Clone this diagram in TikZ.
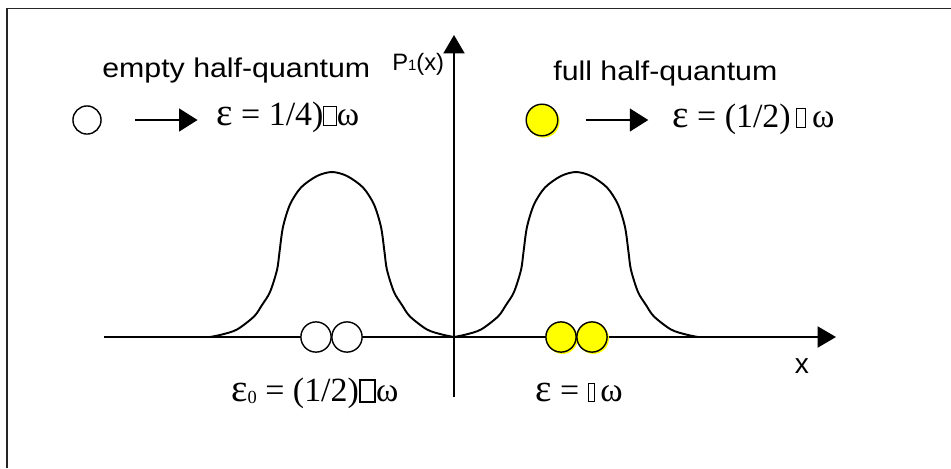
\documentclass[tikz,border=0pt]{standalone}
\usepackage{fontspec}
\usepackage{graphicx}
\setmainfont{Liberation Serif}
\newfontfamily\arialf{Liberation Sans}
\usetikzlibrary{arrows.meta}
\definecolor{ballyellow}{RGB}{255,255,0}
\newcommand{\tofubox}[3]{{\setlength{\fboxsep}{0pt}\setlength{\fboxrule}{#3}\fbox{\rule{0pt}{#2}\hspace*{#1}}}}
\newcommand{\eps}{\scalebox{1.15}{ε}}
\tikzset{
  frameline/.style={line width=1.1pt, draw=black!85},
  axisline/.style={line width=1.1pt, -{Triangle[length=10.5pt,width=12pt]}},
  bumpline/.style={line width=1.1pt},
  ball/.style={circle, draw, line width=0.8pt, inner sep=0pt, minimum size=17.2pt, fill=white},
  yball/.style={ball, fill=ballyellow},
  yshadow/.style={circle, inner sep=0pt, minimum size=17.6pt, fill=ballyellow},
  sarrow/.style={line width=1pt, -{Triangle[length=10.5pt,width=13pt]}},
  serif/.style={anchor=base west, inner sep=0pt, font=\fontsize{19.3pt}{21pt}\selectfont},
  sans/.style={anchor=base west, inner sep=0pt, font=\arialf\fontsize{15.4pt}{17pt}\selectfont},
}
\begin{document}
\begin{tikzpicture}[x=0.02cm, y=-0.02cm]
\useasboundingbox (0,0) rectangle (951,468);
% frame (only top and left visible)
\coordinate (fbl) at (7,468);
\coordinate (ftl) at (7,8.5);
\coordinate (ftr) at (951,8.5);
\draw[frameline] (fbl) -- (ftl) -- (ftr);

% axes
\coordinate (xstart) at (104,337);
\coordinate (xend) at (836,337);
\coordinate (ystart) at (454,397);
\coordinate (yend) at (454,35);
\draw[axisline] (xstart) -- (xend);
\draw[axisline] (ystart) -- (yend);

% bumps
\foreach \cx in {332,576}{
\begin{scope}[shift={(\cx,0)}]
\draw[bumpline] plot[smooth, tension=0.5] coordinates {
(-122,337) (-110,334.5) (-95,329.5) (-78,316.5) (-70,305) (-62,292) (-55,270)
(-52.5,252) (-49,227) (-42,204.5) (-31,187.5) (-15,176) (0,172)
(15,176) (31,187.5) (42,204.5) (49,227) (52.5,252) (55,270) (62,292)
(70,305) (78,316.5) (95,329.5) (110,334.5) (122,337)};
\end{scope}
}

% balls on the axis
\node[ball] (w1) at (316,337) {};
\node[ball] (w2) at (347,337) {};
\node[yshadow] (ys1) at (562.5,338.5) {};
\node[yshadow] (ys2) at (593.5,338.5) {};
\node[yball] (y1) at (561,337) {};
\node[yball] (y2) at (592,337) {};

% labels
\node[sans] (lempty) at (102,77) {\scalebox{1.12}[1]{empty half-quantum}};
\node[sans] (lfull) at (553,80) {\scalebox{1.12}[1]{full half-quantum}};
\node[anchor=base west, inner sep=0pt, font=\arialf\fontsize{13.5pt}{15pt}\selectfont] (py) at (392,70) {P{\fontsize{8.5pt}{9pt}\selectfont 1}(x)};
\node[anchor=center, inner sep=0pt, font=\arialf\fontsize{16pt}{18pt}\selectfont] (lx) at (802,366) {x};

% legend row
\node[ball, minimum size=16pt] (c0) at (87,120) {};
\node[serif] (t1) at (216,125) {\eps\ = 1/4)\tofubox{6.5pt}{10.5pt}{0.6pt}ω};
\draw[sarrow] ([xshift=19pt]c0.east) -- ([xshift=-10.5pt]t1.west |- c0.east);

\node[yshadow, minimum size=18.4pt] (ys0) at (543.5,121.5) {};
\node[yball, minimum size=18pt] (c1) at (542,120) {};
\node[serif] (t2) at (672,127) {\eps\ = (1/2)\,\tofubox{4.5pt}{10pt}{0.6pt}\,ω};
\draw[sarrow] ([xshift=15.5pt]c1.east) -- ([xshift=-13.5pt]t2.west |- c1.east);

% bottom energies
\node[serif] (t3) at (231,401) {\eps\raisebox{-0.15ex}{\fontsize{10.5pt}{11pt}\selectfont 0} = (1/2)\tofubox{7.6pt}{11.5pt}{1.1pt}ω};
\node[serif] (t4) at (535,401) {\eps\ = \tofubox{3pt}{9.5pt}{0.5pt}\,ω};
\end{tikzpicture}
\end{document}
